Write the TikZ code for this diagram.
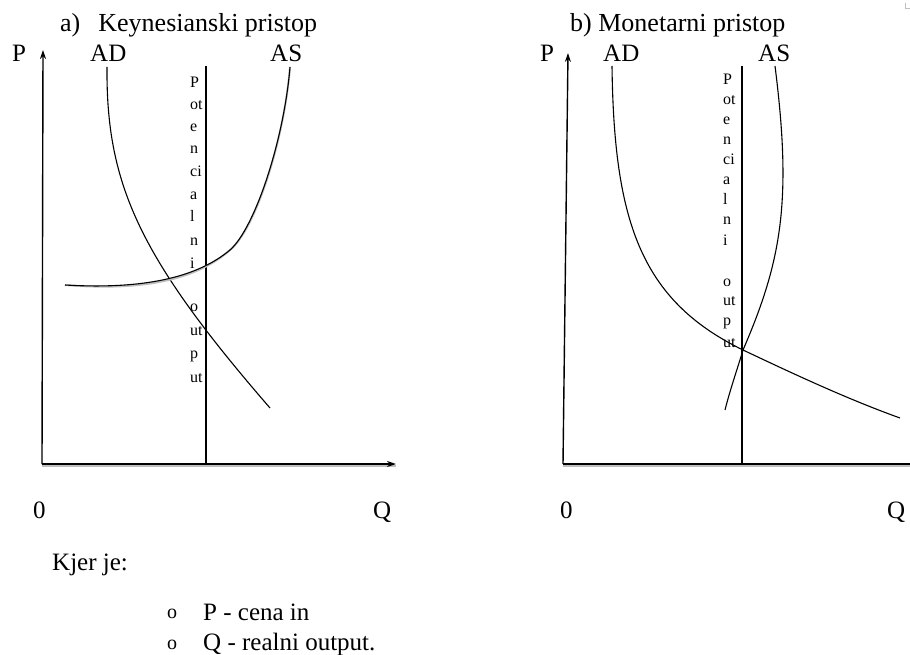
\documentclass[tikz,border=0pt]{standalone}
\usepackage{fontspec}
\setmainfont{Liberation Serif}
\usetikzlibrary{positioning, arrows.meta}

\begin{document}
\begin{tikzpicture}[x=1pt, y=-1pt, >={Stealth[length=9pt,width=6pt]},
    lbl/.style={font=\rmfamily\fontsize{25}{27}\selectfont, anchor=base west, inner sep=0pt},
    ttl/.style={font=\rmfamily\fontsize{26}{28}\selectfont, anchor=base west, inner sep=0pt},
    txt/.style={font=\rmfamily\fontsize{25}{27}\selectfont, anchor=base west, inner sep=0pt},
    vtxt/.style={font=\rmfamily\fontsize{16}{18}\selectfont, anchor=base west, inner sep=0pt},
    axis/.style={line width=1.4pt},
    curve/.style={line width=1.1pt},
    shade/.style={line width=2pt, black!25}]
    \useasboundingbox (0,0) rectangle (910,655);

    % naslovi
    \node[ttl] (ta) at (60,32) {a)\hspace{18pt}Keynesianski pristop};
    \node[ttl] (tb) at (570,32) {b) Monetarni pristop};

    % a) Keynesianski pristop
    \coordinate (oa) at (42,464);
    \coordinate (pa) at (43,50);
    \coordinate (qa) at (396,464);
    \node[lbl] (Pa) at (12,62) {P};
    \node[lbl] (ADa) at (90,62) {AD};
    \node[lbl] (ASa) at (270,62) {AS};
    \node[lbl] (0a) at (33,518) {0};
    \node[lbl] (Qa) at (373,518) {Q};
    \draw[shade] ([yshift=-1.5pt]oa) -- ([yshift=-1.5pt]qa);
    \draw[axis, ->] (oa) -- (pa);
    \draw[axis, ->] (oa) -- (qa);
    \coordinate (ya) at (206,464);
    \coordinate (yat) at (206,66);
    \draw[curve] (ya) -- (yat);
    \foreach \t/\y [count=\i] in {P/88, ot/110, e/132, n/154, ci/177, a/200, l/222, n/245, i/268, o/311, ut/335, p/358, ut/382}
        \node[vtxt] (va\i) at (190,\y) {\t};
    % AD
    \coordinate (ada1) at (107,67);
    \coordinate (ada2) at (270,408);
    \draw[curve] (ada1) .. controls (106,185) and (140,258) .. (ada2);
    % AS
    \coordinate (asa1) at (65,285);
    \coordinate (asa2) at (230,250);
    \coordinate (asa3) at (290,67);
    \draw[shade, yshift=-1.8pt] (asa1) .. controls (150,290) and (200,275) .. (asa2)
        .. controls (255,228) and (284,140) .. (asa3);
    \draw[curve] (asa1) .. controls (150,290) and (200,275) .. (asa2)
        .. controls (255,228) and (284,140) .. (asa3);

    % b) Monetarni pristop
    \coordinate (ob) at (563,464);
    \coordinate (pb) at (568,53);
    \coordinate (qb) at (910,464);
    \node[lbl] (Pb) at (540,62) {P};
    \node[lbl] (ADb) at (603,62) {AD};
    \node[lbl] (ASb) at (758,62) {AS};
    \node[lbl] (0b) at (560,518) {0};
    \node[lbl] (Qb) at (887,518) {Q};
    \draw[shade] ([yshift=-1.5pt]ob) -- ([yshift=-1.5pt]qb);
    \draw[axis, ->] (ob) -- (pb);
    \draw[axis] (ob) -- (qb);
    \coordinate (yb) at (742,464);
    \coordinate (ybt) at (742,66);
    \draw[curve] (yb) -- (ybt);
    \foreach \t/\y [count=\i] in {P/85, ot/105, e/125, n/145, ci/165, a/185, l/205, n/225, i/245, o/286, ut/305, p/325, ut/347}
        \node[vtxt] (vb\i) at (723,\y) {\t};
    % AD
    \coordinate (adb1) at (612,66);
    \coordinate (adb2) at (743,350);
    \coordinate (adb3) at (900,418);
    \draw[curve] (adb1) .. controls (614,220) and (640,300) .. (adb2)
        .. controls (800,377) and (850,400) .. (adb3);
    % AS
    \coordinate (asb1) at (775,66);
    \coordinate (asb2) at (743,350);
    \coordinate (asb3) at (725,410);
    \draw[curve] (asb1) .. controls (792,200) and (782,260) .. (asb2)
        .. controls (737,370) and (730,390) .. (asb3);

    % legenda
    \node[txt] (kj) at (52,570) {Kjer je:};
    \node[txt, font=\rmfamily\fontsize{20}{22}\selectfont, anchor=base] (b1) at (172,618) {o};
    \node[txt] (l1) at (203,620) {P - cena in};
    \node[txt, font=\rmfamily\fontsize{20}{22}\selectfont, anchor=base] (b2) at (172,649) {o};
    \node[txt] (l2) at (203,650) {Q - realni output.};

    % oznaka v kotu
    \draw[black!25, line width=1pt] (905,3) -- (905,9) -- (910,9);
\end{tikzpicture}
\end{document}
